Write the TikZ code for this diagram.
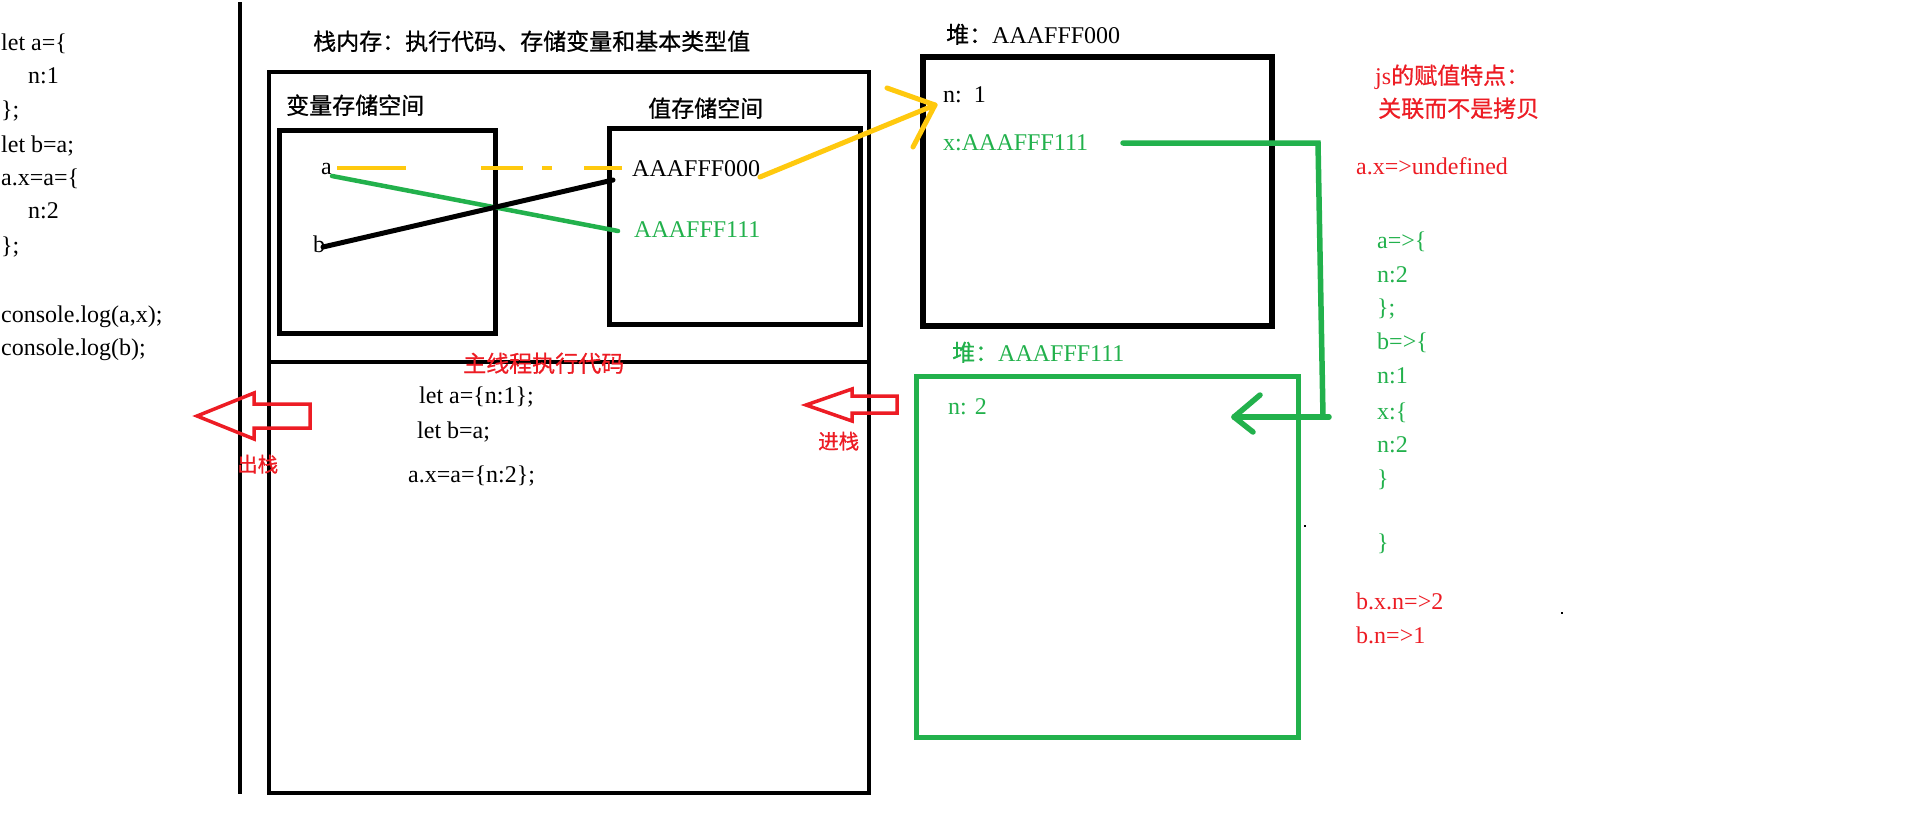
\documentclass[tikz,border=0pt]{standalone}
\usepackage{fontspec}
\setmainfont{Liberation Serif}
\newfontfamily\cjk[FakeBold=0.7]{Noto Sans CJK SC}
\definecolor{pgreen}{HTML}{22B14C}
\definecolor{pred}{HTML}{ED1C24}
\definecolor{pyellow}{HTML}{FFC90E}
\tikzset{
  txt/.style={inner sep=0pt, anchor=base west, font=\fontsize{24}{24}\selectfont},
  cjkt/.style={inner sep=0pt, anchor=base west, font=\cjk\fontsize{23}{23}\selectfont},
  cjks/.style={inner sep=0pt, anchor=base west, font=\cjk\fontsize{20.5}{20.5}\selectfont},
  box/.style={draw, line width=5pt},
  wire/.style={line width=5pt, line cap=round, line join=round},
  bigarrow/.style={draw=pred, line width=3.5pt, line join=miter},
}
\begin{document}
\begin{tikzpicture}[x=1pt,y=-1pt]
\useasboundingbox (0,0) rectangle (1908,822);
\fill[white] (0,0) rectangle (1908,822);

% left code
\node[txt] (c1) at (1,50) {let a=\{};
\node[txt] (c2) at (28,83) {n:1};
\node[txt] (c3) at (1,117) {\};};
\node[txt] (c4) at (1,152) {let b=a;};
\node[txt] (c5) at (1,185) {a.x=a=\{};
\node[txt] (c6) at (28,218) {n:2};
\node[txt] (c7) at (1,253) {\};};
\node[txt] (c8) at (1,322) {console.log(a,x);};
\node[txt] (c9) at (1,355) {console.log(b);};

% left vertical line
\coordinate (vl1) at (240,2);
\coordinate (vl2) at (240,794);
\draw[line width=4.5pt] (vl1) -- (vl2);

% stack
\node[cjkt] (stitle) at (313,50) {栈内存：执行代码、存储变量和基本类型值};
\draw[box, line width=4.5pt] (269,72) rectangle (869,793);
\coordinate (dv1) at (269,362);
\coordinate (dv2) at (869,362);
\draw[line width=4.5pt] (dv1) -- (dv2);
\node[cjkt] (vlabel) at (286,114) {变量存储空间};
\draw[box] (279,130) rectangle (495,333);
\node[cjkt] (valabel) at (648,117) {值存储空间};
\draw[box] (609,128) rectangle (860,324);

\node[txt] (va) at (321,174) {a};
\node[txt] (vb) at (313,252) {b};
\node[txt] (v0) at (632,176) {AAAFFF000};
\node[txt, text=pgreen] (v1) at (634,237) {AAAFFF111};

% connectors in stack
\coordinate (ya) at (337,168);
\coordinate (yb) at (622,168);
\draw[pyellow, line width=4.5pt, dash pattern=on 69pt off 75pt on 42pt off 19pt on 10pt off 32pt on 38pt off 200pt] (ya) -- (yb);
\coordinate (ga) at (332,176);
\coordinate (gb) at (618,231);
\draw[pgreen, wire, line width=4.5pt] (ga) -- (gb);
\coordinate (ba) at (323,247);
\coordinate (bb) at (613,180);
\draw[black, wire] (ba) -- (bb);

% main thread code
\node[cjkt, text=pred] (mt) at (463,372) {主线程执行代码};
\node[txt] (m1) at (419,403) {let a=\{n:1\};};
\node[txt] (m2) at (417,438) {let b=a;};
\node[txt] (m3) at (408,482) {a.x=a=\{n:2\};};

% red arrows
\draw[bigarrow] (197,416) -- (254,393) -- (254,404) -- (310,404) -- (310,428) -- (254,428) -- (254,439) -- cycle;
\node[cjks, text=pred] (out) at (237,472) {出栈};
\draw[bigarrow] (806,405) -- (852,389) -- (852,396) -- (897,396) -- (897,413) -- (852,413) -- (852,421) -- cycle;
\node[cjks, text=pred] (in) at (818,449) {进栈};

% heap 1
\node[txt] (h1t) at (946,43) {{\cjk\fontsize{23}{23}\selectfont 堆：}AAAFFF000};
\draw[box, line width=5.5pt] (923,57) rectangle (1272,326);
\node[txt] (h1n) at (943,102) {n:\ \ 1};
\node[txt, text=pgreen] (h1x) at (943,150) {x:AAAFFF111};

% yellow arrow
\coordinate (ys) at (760,177);
\coordinate (yt) at (935,105);
\coordinate (yh1) at (887,88);
\coordinate (yh2) at (913,147);
\draw[pyellow, wire] (ys) -- (yt);
\draw[pyellow, wire] (yh1) -- (yt) -- (yh2);

% heap 2
\node[txt, text=pgreen] (h2t) at (952,361) {{\cjk\fontsize{23}{23}\selectfont 堆：}AAAFFF111};
\draw[box, pgreen] (916,376) rectangle (1298,737);
\node[txt, text=pgreen] (h2n) at (948,414) {n: 2};

% green connector
\coordinate (g1) at (1123,143);
\coordinate (g2) at (1318,143);
\coordinate (g3) at (1323,417);
\coordinate (g4) at (1329,417);
\coordinate (gt) at (1234,417);
\coordinate (gh1) at (1260,395);
\coordinate (gh2) at (1253,432);
\draw[pgreen, wire, line width=5.5pt, line join=miter] (g1) -- (g2) -- (g3);
\draw[pgreen, wire, line width=5.5pt] (g4) -- (gt);
\draw[pgreen, wire, line width=5.5pt] (gh1) -- (gt) -- (gh2);

% right notes
\node[txt, text=pred] (r1) at (1375,84) {js{\cjk\fontsize{23}{23}\selectfont 的赋值特点：}};
\node[cjkt, text=pred] (r2) at (1378,117) {关联而不是拷贝};
\node[txt, text=pred] (r3) at (1356,174) {a.x=>undefined};
\node[txt, text=pgreen] (s1) at (1377,248) {a=>\{};
\node[txt, text=pgreen] (s2) at (1377,282) {n:2};
\node[txt, text=pgreen] (s3) at (1377,315) {\};};
\node[txt, text=pgreen] (s4) at (1377,349) {b=>\{};
\node[txt, text=pgreen] (s5) at (1377,383) {n:1};
\node[txt, text=pgreen] (s6) at (1377,419) {x:\{};
\node[txt, text=pgreen] (s7) at (1377,452) {n:2};
\node[txt, text=pgreen] (s8) at (1377,486) {\}};
\node[txt, text=pgreen] (s9) at (1377,550) {\}};
\node[txt, text=pred] (r4) at (1356,609) {b.x.n=>2};
\node[txt, text=pred] (r5) at (1356,643) {b.n=>1};

% stray dots
\fill[black] (1304,525) rectangle (1306,527);
\fill[black] (1561,612) rectangle (1563,614);
\end{tikzpicture}
\end{document}
